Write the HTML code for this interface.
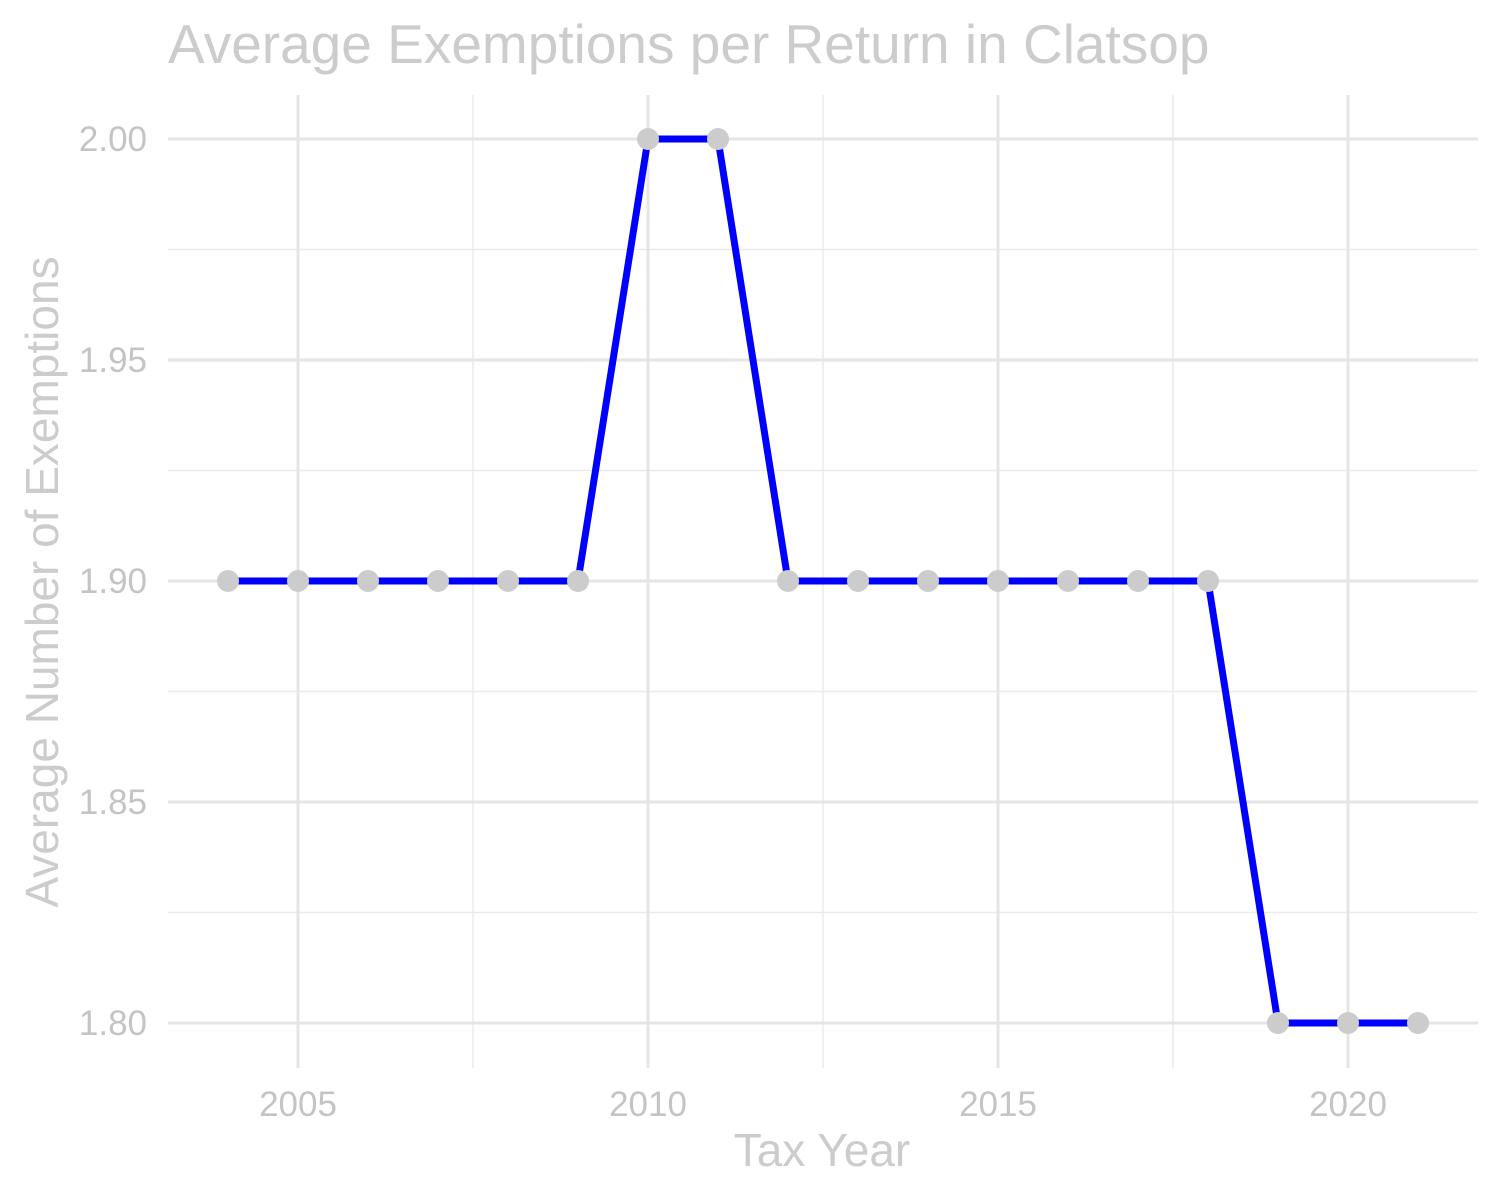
<!DOCTYPE html>
<html><head><meta charset="utf-8"><style>
html,body{margin:0;padding:0;background:#fff;}
svg{display:block;font-family:"Liberation Sans",Arial,sans-serif;}
</style></head><body>
<svg id="chart" width="1500" height="1199" viewBox="0 0 1500 1199">
<text x="168" y="63" font-size="55" fill="#cccccc">Average Exemptions per Return in Clatsop</text>
<g id="grid"></g>
<g id="series"></g>
<g id="labels"></g>
<text x="822" y="1166" font-size="46" fill="#cccccc" text-anchor="middle">Tax Year</text>
<text transform="translate(58,582) rotate(-90)" font-size="46" fill="#cccccc" text-anchor="middle">Average Number of Exemptions</text>
</svg>
<script>
const years=[2004,2005,2006,2007,2008,2009,2010,2011,2012,2013,2014,2015,2016,2017,2018,2019,2020,2021];
const values=[1.9,1.9,1.9,1.9,1.9,1.9,2.0,2.0,1.9,1.9,1.9,1.9,1.9,1.9,1.9,1.8,1.8,1.8];
const xTicks=[2005,2010,2015,2020];
const xMinor=[2007.5,2012.5,2017.5];
const yTicks=[1.80,1.85,1.90,1.95,2.00];
const yMinor=[1.825,1.875,1.925,1.975];
const NS="http://www.w3.org/2000/svg";
const L=168,R=1478,T=95,B=1068;
const xs=v=>298+(v-2005)*70;
const ys=v=>139+(2.0-v)*4420;
function mk(tag,attrs,parent){const e=document.createElementNS(NS,tag);for(const k in attrs)e.setAttribute(k,attrs[k]);document.getElementById(parent).appendChild(e);return e;}
xMinor.forEach(v=>{const e=mk('line',{x1:xs(v),x2:xs(v),y1:T,y2:B,stroke:'#ebebeb','stroke-width':1.5},'grid');

});
yMinor.forEach(v=>{const e=mk('line',{x1:L,x2:R,y1:ys(v),y2:ys(v),stroke:'#ebebeb','stroke-width':1.5},'grid');

});
xTicks.forEach(v=>{const e=mk('line',{x1:xs(v),x2:xs(v),y1:T,y2:B,stroke:'#e5e5e5','stroke-width':3},'grid');


const t=mk('text',{x:xs(v),y:1116,'font-size':35,fill:'#c4c4c4','text-anchor':'middle'},'labels');t.textContent=v;

});
yTicks.forEach(v=>{const e=mk('line',{x1:L,x2:R,y1:ys(v),y2:ys(v),stroke:'#e5e5e5','stroke-width':3},'grid');


const t=mk('text',{x:147,y:ys(v)+12,'font-size':35,fill:'#c4c4c4','text-anchor':'end'},'labels');t.textContent=v.toFixed(2);

});
const pts=years.map((y,i)=>xs(y)+','+ys(values[i])).join(' ');
const pl=mk('polyline',{points:pts,fill:'none',stroke:'#0000ff','stroke-width':7,'stroke-linejoin':'round'},'series');


years.forEach((y,i)=>{const c=mk('circle',{cx:xs(y),cy:ys(values[i]),r:11,fill:'#cccccc'},'series');

});
</script>
</body></html>
